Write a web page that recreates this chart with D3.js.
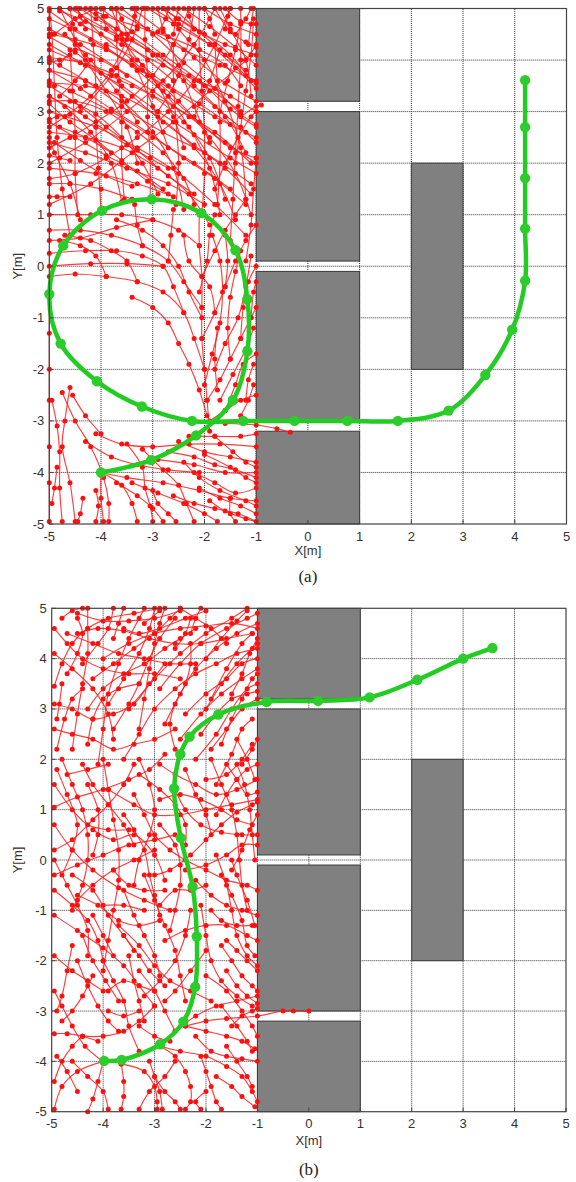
<!DOCTYPE html>
<html>
<head>
<meta charset="utf-8">
<script src="https://cdn.jsdelivr.net/npm/d3@7"></script>
<style>
  body { margin: 0; background: #fff; }
  svg { display: block; }
  .tick-label { font-family: "Liberation Sans", Arial, sans-serif; font-size: 13px; fill: #333; }
  .caption { font-family: "Liberation Serif", "Times New Roman", serif; font-size: 17px; fill: #222; }
</style>
</head>
<body>
<svg id="chart" width="576" height="1182"></svg>
<script>
// axis ticks (both panels)
const ticks = [-5, -4, -3, -2, -1, 0, 1, 2, 3, 4, 5];

// obstacles [x0, x1, y0, y1] in metres
const obstacles = [
  [-1, 1, 3.2, 5],
  [-1, 1, 0.1, 3],
  [-1, 1, -3, -0.1],
  [-1, 1, -5, -3.2],
  [2, 3, -2, 2]
];

// green final path, panel (a)
const pathA = [
  [-4, -4], [-3.03, -3.76], [-2.16, -3.28], [-1.45, -2.6], [-1.17, -1.65], [-1.17, -0.64],
  [-1.4, 0.31], [-2.06, 1.03], [-3.02, 1.3], [-3.98, 1.08], [-4.73, 0.4], [-5.0, -0.54],
  [-4.78, -1.5], [-4.08, -2.23], [-3.21, -2.72], [-2.24, -3.0], [-1.25, -3.0], [-0.26, -3.0],
  [0.76, -3.0], [1.74, -3.0], [2.72, -2.8], [3.43, -2.11], [3.95, -1.23], [4.2, -0.28],
  [4.2, 0.73], [4.2, 1.71], [4.2, 2.7], [4.2, 3.61]
];

// green final path, panel (b)
const pathB = [
  [-3.98, -3.99], [-3.64, -3.97], [-2.89, -3.66], [-2.44, -3.21], [-2.21, -2.52], [-2.18, -1.52],
  [-2.26, -0.53], [-2.49, 0.44], [-2.62, 1.42], [-2.5, 2.1], [-2.32, 2.45], [-1.76, 2.89],
  [-0.82, 3.14], [0.18, 3.16], [1.18, 3.23], [2.11, 3.58], [3.0, 4.0], [3.57, 4.21]
];

// red search tree branches, panel (a): x0,y0,x1,y1,...
const treeA = [
  // upper field
  [-1.2,0.6, -1.8,1.2, -2.5,1.8, -3.3,2.3, -4.1,2.7, -5,3.0],
  [-1.5,1.5, -2.2,2.0, -3.0,2.5, -3.8,3.0, -4.6,3.4, -5,3.6],
  [-1.1,2.0, -1.8,2.6, -2.6,3.1, -3.4,3.5, -4.3,3.9, -5,4.2],
  [-1.3,3.0, -2.0,3.5, -2.8,3.9, -3.6,4.3, -4.4,4.7, -4.8,5],
  [-1.2,3.8, -1.9,4.3, -2.6,4.7, -3.1,5],
  [-2.0,1.2, -2.7,1.6, -3.5,1.9, -4.3,2.2, -5,2.4],
  [-2.6,1.35, -3.3,1.6, -4.1,1.8, -5,1.9],
  [-3.4,1.3, -4.0,1.5, -4.6,1.6, -5,1.6],
  [-5,4.8, -4.2,4.4, -3.4,3.9, -2.6,3.4, -1.8,2.9, -1,2.5],
  [-5,4.0, -4.3,3.6, -3.6,3.1, -2.8,2.6, -2.0,2.2, -1.1,1.6],
  [-5,3.3, -4.3,2.9, -3.5,2.35, -2.7,1.9],
  [-4.6,5, -3.9,4.6, -3.1,4.2, -2.3,3.7, -1.5,3.3, -1,3.0],
  [-3.8,5, -3.1,4.6, -2.4,4.2, -1.7,3.9, -1.0,3.6],
  [-2.8,5, -2.2,4.6, -1.6,4.3, -1.0,4.1],
  [-2.0,5, -1.5,4.7, -1.0,4.5],
  [-3.05,1.3, -3.05,2.1, -3.1,2.9, -3.1,3.7, -3.15,4.4, -3.15,5],
  [-2.05,1.0, -2.0,1.8, -2.0,2.6, -2.05,3.4, -2.1,4.2, -2.1,5],
  [-1.5,0.5, -1.45,1.3, -1.4,2.2, -1.35,3.1, -1.3,4.0, -1.3,5],
  [-4.0,1.1, -4.05,1.9, -4.1,2.7, -4.1,3.5, -4.15,4.3, -4.2,5],
  [-4.6,0.6, -4.75,1.5, -4.85,2.5, -4.9,3.5, -4.95,4.5, -5,5],
  [-2.4,1.1, -2.6,1.9, -3.0,2.6, -3.6,3.2, -4.3,3.6, -5,3.8],
  [-1.7,1.0, -1.9,1.9, -2.3,2.7, -2.8,3.4, -3.4,4.0, -4.0,4.5, -4.5,5],
  [-1.2,1.3, -1.3,2.3, -1.6,3.2, -2.0,4.0, -2.5,4.6, -2.8,5],
  [-3.6,1.25, -3.8,2.0, -4.2,2.6, -4.7,3.1, -5,3.3],
  [-1.1,3.3, -1.2,4.0, -1.5,4.6, -1.7,5],
  [-4.4,0.9, -4.6,1.6, -4.9,2.2, -5,2.5],
  [-5,2.0, -4.3,2.4, -3.5,3.0, -2.8,3.6, -2.2,4.3, -1.8,5],
  [-5,1.2, -4.2,1.6, -3.4,2.2, -2.6,2.8, -1.9,3.4, -1.2,4.0, -1,4.3],
  [-4.4,3.0, -3.8,3.7, -3.4,4.4, -3.2,5],
  [-2.9,3.0, -2.5,3.7, -2.3,4.4, -2.2,5],
  [-4.9,4.5, -4.5,4.8, -4.1,5],
  [-3.5,4.5, -3.6,4.8, -3.7,5],
  [-2.6,4.5, -2.55,4.8, -2.5,5],
  [-1.4,4.5, -1.2,4.8, -1.1,5],
  [-4.5,4.3, -4.55,4.7, -4.6,5],
  [-1.8,4.5, -1.9,4.8, -2.0,5],
  [-1.4,2.0, -1.3,2.7, -1.2,3.4, -1.1,4.1, -1.05,4.8],
  [-1.2,0.1, -1.1,0.8, -1.05,1.5, -1,2.1],
  [-1.7,3.0, -1.55,3.6, -1.4,4.2, -1.3,4.7],
  [-1.8,1.5, -1.6,2.0, -1.35,2.5, -1.1,2.9, -1.0,3.0],
  [-1.3,2.9, -1.0,3.1, -0.9,3.13],
  [-4.8,3.9, -4.5,4.2, -4.0,4.0, -3.5,3.7],
  [-2.4,2.3, -2.6,2.9, -2.9,3.5, -3.3,4.0, -3.9,4.3],
  [-3.8,2.2, -4.3,2.5, -4.8,2.7],
  [-2.2,2.9, -1.9,3.6, -1.7,4.2],
  [-3.3,2.8, -3.7,3.4, -4.3,4.1, -4.7,4.5],
  [-5,4.6, -4.4,4.3, -3.7,3.85, -3.0,3.4, -2.3,2.9, -1.6,2.4, -1.0,2.0],
  [-5,4.3, -4.3,3.9, -3.6,3.5, -2.9,3.0, -2.2,2.55, -1.5,2.1, -1.0,1.8],
  [-5,3.8, -4.4,3.45, -3.8,3.05, -3.1,2.6, -2.4,2.1, -1.8,1.7, -1.2,1.2],
  [-5,3.5, -4.4,3.1, -3.9,2.7, -3.3,2.25, -2.7,1.75, -2.2,1.4],
  [-5,2.8, -4.5,2.5, -3.9,2.15, -3.3,1.85, -2.8,1.5],
  [-4.3,5, -3.7,4.6, -3.0,4.1, -2.4,3.6, -1.8,3.1, -1.2,2.6, -1.0,2.4],
  [-4.0,5, -3.4,4.55, -2.8,4.1, -2.1,3.6, -1.5,3.05, -1.0,2.7],
  [-3.4,5, -2.8,4.55, -2.2,4.05, -1.6,3.55, -1.0,3.2],
  [-3.0,5, -2.5,4.7, -1.9,4.3, -1.4,3.85, -1.0,3.45],
  [-2.4,5, -1.9,4.65, -1.4,4.25, -1.0,3.9],
  [-1.6,5, -1.3,4.75, -1.0,4.7],
  [-4.8,4.95, -4.3,4.75, -3.7,4.45, -3.1,4.0, -2.6,3.6],
  [-1.9,0.8, -2.3,1.4, -2.9,1.9, -3.6,2.3, -4.3,2.5, -5,2.6],
  [-1.4,0.9, -1.7,1.6, -2.2,2.3, -2.9,2.9, -3.6,3.3, -4.3,3.5, -5,3.55],
  [-1.1,1.0, -1.4,1.8, -1.9,2.5, -2.5,3.2, -3.2,3.8, -3.9,4.2, -4.5,4.4, -5,4.5],
  [-1.2,2.2, -1.6,2.9, -2.2,3.5, -2.9,4.1, -3.5,4.5, -4.1,4.8, -4.4,5],
  [-1.1,3.6, -1.5,4.1, -2.0,4.5, -2.5,4.8, -2.8,5],
  [-3.3,5, -3.5,4.4, -3.8,3.8, -4.2,3.3, -4.7,2.9, -5,2.7],
  [-2.3,5, -2.6,4.3, -3.0,3.7, -3.5,3.2, -4.1,2.8, -4.6,2.5, -5,2.3],
  [-1.5,5, -1.8,4.3, -2.2,3.6, -2.7,3.0, -3.3,2.5, -3.9,2.1, -4.5,1.8, -5,1.7],
  [-4.2,4.0, -4.5,3.6, -4.8,3.3],
  [-3.55,1.3, -3.6,2.0, -3.6,2.8, -3.65,3.6, -3.7,4.4, -3.7,5],
  [-2.55,1.2, -2.5,2.0, -2.55,2.8, -2.6,3.6, -2.6,4.3],
  [-1.75,1.2, -1.7,2.0, -1.7,2.8, -1.75,3.6, -1.8,4.3],
  [-4.45,1.0, -4.5,1.8, -4.5,2.6, -4.55,3.4, -4.6,4.2],
  [-1.15,4.3, -1.1,4.7, -1.05,5],
  [-4.3,4.6, -4.4,4.85, -4.45,5],
  [-3.9,4.6, -3.95,4.85, -3.95,5],
  [-3.3,4.6, -3.35,4.85, -3.35,5],
  [-2.9,4.55, -2.75,4.8, -2.7,5],
  [-2.2,4.6, -2.3,4.85, -2.3,5],
  [-1.6,4.6, -1.55,4.85, -1.5,5],
  [-4.6,4.1, -4.8,4.0, -5,3.95],
  [-4.6,2.95, -4.85,2.9, -5,2.85],
  [-4.6,1.35, -4.85,1.35, -5,1.35],
  [-4.6,2.05, -4.8,2.1, -5,2.15],
  [-5,4.95, -4.5,4.6, -3.9,4.25, -3.3,3.8, -2.7,3.3, -2.1,2.8, -1.5,2.3, -1.0,2.1],
  [-5,4.45, -4.5,4.15, -4.0,3.75, -3.4,3.3, -2.8,2.8, -2.2,2.35, -1.6,1.9, -1.1,1.4],
  [-5,3.15, -4.6,2.8, -4.1,2.45, -3.6,2.05, -3.1,1.65, -2.7,1.4],
  [-4.9,2.4, -4.4,2.05, -3.9,1.75, -3.4,1.55],
  [-3.6,5, -3.0,4.5, -2.4,3.95, -1.8,3.45, -1.3,2.95, -1.0,2.75],
  [-2.6,5, -2.1,4.55, -1.6,4.1, -1.2,3.7, -1.0,3.55],
  [-1.8,5, -1.5,4.55, -1.2,4.35, -1.0,4.25],
  [-4.1,4.9, -3.6,4.4, -3.2,3.9, -2.7,3.5, -2.1,3.15, -1.5,2.75],
  [-2.2,1.2, -2.4,1.7, -2.8,2.2, -3.3,2.6, -3.9,3.0, -4.5,3.2, -5,3.2],
  [-1.6,1.3, -1.9,2.1, -2.4,2.8, -3.0,3.3, -3.7,3.7, -4.4,3.95, -5,4.05],
  [-1.3,3.5, -1.6,3.9, -2.1,4.2, -2.7,4.45, -3.3,4.65, -3.9,4.85, -4.2,5],
  [-2.9,1.4, -3.2,2.0, -3.6,2.5, -4.1,2.95, -4.6,3.2],
  [-1.9,2.4, -2.2,3.1, -2.5,3.9, -2.8,4.6, -2.9,5],
  [-2.7,2.3, -3.0,3.1, -3.3,3.8, -3.6,4.5, -3.8,5],
  [-3.3,2.0, -3.5,2.7, -3.9,3.4, -4.3,4.0, -4.6,4.6, -4.8,5],
  // loop interior
  [-1.9,-3.2, -1.95,-2.6, -2.0,-2.0, -2.05,-1.4, -2.05,-0.8, -2.05,-0.2, -2.1,0.4, -2.1,1.0],
  [-2.0,-2.0, -2.2,-1.4, -2.4,-0.9, -2.8,-0.5, -3.3,-0.3, -3.9,-0.2, -4.5,-0.15, -5,-0.2],
  [-2.05,-1.4, -1.8,-0.9, -1.6,-0.4, -1.4,0.1, -1.2,0.5, -1,0.8],
  [-1.95,-2.6, -1.7,-2.2, -1.5,-1.8, -1.3,-1.4, -1.1,-1.0, -1,-0.8],
  [-1.9,-3.0, -1.6,-2.8, -1.3,-2.6, -1.0,-2.5],
  [-1.6,-2.8, -1.4,-2.3, -1.25,-1.9, -1.0,-1.7],
  [-2.05,-0.8, -2.4,-0.3, -2.7,0.1, -3.2,0.4, -3.8,0.6, -4.4,0.7, -5,0.7],
  [-2.05,-0.2, -1.8,0.3, -1.6,0.7, -1.4,1.0, -1.2,1.3],
  [-1.5,-1.8, -1.55,-1.2, -1.5,-0.6, -1.4,-0.1, -1.3,0.3],
  [-1.3,-1.4, -1.25,-0.8, -1.15,-0.3, -1.0,0.0],
  [-2.4,-0.9, -2.6,-0.4, -2.8,0.0, -3.2,0.2, -3.7,0.3, -4.3,0.3, -5,0.25],
  [-2.1,0.4, -2.5,0.7, -3.0,0.9, -3.6,1.0, -4.2,1.0, -5,1.0],
  [-2.7,0.1, -2.65,0.6, -2.6,1.1],
  [-3.2,0.4, -3.3,0.8, -3.35,1.2],
  [-1.6,-0.4, -1.55,0.1, -1.6,0.6],
  [-2.8,0.0, -3.5,0.05, -4.2,0.05, -5,0.0],
  [-3.0,0.9, -3.7,0.75, -4.4,0.55, -5,0.5],
  [-1.8,-0.9, -1.9,-0.4, -2.3,0.1, -2.4,0.6],
  [-1.75,-2.4, -1.8,-1.8, -1.75,-1.2],
  [-1.2,-2.6, -1.15,-2.2, -1.05,-1.9],
  [-1.1,-1.0, -1.05,-0.5, -1.0,-0.3],
  [-1.95,-2.9, -2.1,-2.4, -2.3,-1.9, -2.5,-1.5, -2.7,-1.1, -3.0,-0.8, -3.4,-0.6],
  [-2.0,-2.3, -1.85,-1.7, -1.7,-1.1, -1.65,-0.5, -1.7,0.1, -1.85,0.6],
  [-1.8,-2.0, -1.6,-1.5, -1.35,-1.0, -1.2,-0.4, -1.1,0.2],
  [-2.05,-1.0, -2.3,-0.5, -2.5,0.0, -2.8,0.4, -3.2,0.7, -3.7,0.9],
  [-2.1,-0.5, -1.95,0.1, -1.9,0.6, -1.8,1.0],
  [-1.7,-2.6, -1.45,-2.1, -1.2,-1.6, -1.05,-1.2],
  [-1.3,-2.9, -1.15,-2.6, -1.05,-2.3],
  [-3.9,-0.2, -4.1,0.2, -4.4,0.4, -4.8,0.5],
  [-3.3,-0.3, -3.5,0.1, -3.8,0.3, -4.2,0.5, -4.7,0.6],
  // lower field
  [-5,-0.6, -5,-1.3, -5,-2.0, -5,-2.6, -5,-3.5, -5,-4.2, -5,-4.95],
  [-4.6,-2.35, -4.7,-3.0, -4.75,-3.5, -4.6,-4.2, -4.5,-4.95],
  [-4.75,-2.45, -4.5,-3.0, -4.2,-3.5, -3.95,-4.1, -3.85,-4.6, -3.85,-4.95],
  [-4.1,-3.25, -3.6,-3.45, -3.0,-3.5, -2.3,-3.45, -1.7,-3.45, -1.0,-3.5],
  [-4.0,-4.0, -3.5,-4.1, -2.8,-4.2, -2.1,-4.35, -1.5,-4.5, -1.0,-4.55],
  [-4.0,-4.0, -3.6,-4.25, -3.4,-4.6, -3.3,-4.95],
  [-3.4,-4.2, -2.9,-4.4, -2.4,-4.6, -2.0,-4.8, -1.75,-4.95],
  [-4.0,-4.0, -4.0,-4.5, -3.95,-4.95],
  [-2.9,-3.75, -2.2,-3.85, -1.6,-4.0, -1.0,-4.0],
  [-2.5,-3.4, -2.0,-3.6, -1.5,-3.7, -1.0,-3.8],
  [-2.3,-3.3, -1.8,-3.3, -1.3,-3.3, -1.0,-3.25],
  [-2.2,-4.0, -1.8,-4.2, -1.4,-4.4, -1.0,-4.3],
  [-2.0,-3.65, -1.5,-3.9, -1.2,-4.1, -1.0,-4.2],
  [-2.6,-4.45, -2.2,-4.6, -1.8,-4.7, -1.35,-4.8, -1.0,-4.95],
  [-3.0,-4.35, -2.9,-4.6, -2.7,-4.8, -2.55,-4.95],
  [-3.5,-3.45, -3.2,-3.9, -3.15,-4.3, -3.05,-4.65, -3.0,-4.95],
  [-4.1,-4.35, -4.05,-4.65, -4.1,-4.95],
  [-4.55,-2.5, -4.3,-2.9, -4.0,-3.25],
  [-2.1,-4.3, -1.7,-4.5, -1.3,-4.65, -1.0,-4.8],
  [-1.8,-3.3, -1.45,-3.6, -1.2,-3.8, -1.0,-3.9],
  [-1.5,-4.5, -1.5,-4.8, -1.4,-4.95],
  [-1.6,-3.05, -1.0,-3.08, -0.6,-3.15, -0.34,-3.22],
  [-4.95,-2.6, -4.85,-3.1, -4.8,-3.6, -4.8,-4.3, -4.75,-4.95],
  [-2.4,-3.8, -2.1,-4.1, -1.7,-4.35, -1.2,-4.55, -1.0,-4.65],
  [-3.2,-3.55, -2.8,-3.95, -2.5,-4.25, -2.35,-4.6, -2.2,-4.95],
  [-4.3,-3.4, -3.8,-3.7, -3.3,-3.85, -2.7,-3.95, -2.1,-4.0],
  [-3.7,-4.2, -3.3,-4.45, -3.0,-4.7, -2.8,-4.95],
  [-2.7,-3.6, -2.2,-3.7, -1.8,-3.85, -1.4,-3.95, -1.0,-4.1],
  [-1.9,-4.55, -1.6,-4.75, -1.2,-4.9, -1.0,-4.95],
  [-4.85,-3.9, -4.9,-4.3, -4.95,-4.6],
  [-4.35,-4.5, -4.4,-4.8, -4.45,-4.95]
];

// red search tree branches, panel (b)
const treeB = [
  // upper field
  [-4.95,3.45, -4.8,3.9, -4.6,4.3, -4.3,4.6, -3.9,4.8, -3.4,4.9, -2.9,5],
  [-4.6,2.2, -4.5,2.9, -4.4,3.5, -4.3,4.1, -4.3,4.6, -4.3,5],
  [-4.1,1.9, -4.0,2.6, -3.9,3.3, -3.7,3.9, -3.5,4.4, -3.3,4.8, -3.2,5],
  [-3.3,2.6, -3.2,3.2, -3.1,3.8, -3.0,4.3, -2.9,4.7, -2.8,5],
  [-2.8,2.7, -2.5,3.3, -2.2,3.8, -1.8,4.2, -1.4,4.5, -1.0,4.7],
  [-2.5,2.4, -2.1,2.9, -1.7,3.3, -1.3,3.6, -1.0,3.8],
  [-2.9,3.4, -2.5,3.9, -2.1,4.3, -1.6,4.6, -1.2,4.8, -1.0,4.9],
  [-3.5,3.0, -3.0,3.6, -2.5,4.1, -2.0,4.5, -1.5,4.8, -1.2,5],
  [-4.0,4.0, -3.5,4.3, -3.0,4.5, -2.5,4.6, -2.0,4.65, -1.5,4.7, -1.0,4.6],
  [-4.5,4.9, -4.0,4.75, -3.5,4.75, -3.0,4.8, -2.5,4.95],
  [-4.8,4.8, -4.6,4.95, -4.4,5],
  [-4.2,3.6, -3.8,3.9, -3.4,4.2, -3.0,4.5, -2.7,4.8, -2.5,5],
  [-1.9,2.2, -1.6,2.6, -1.3,3.0, -1.0,3.2],
  [-2.0,3.0, -1.7,3.5, -1.4,3.9, -1.1,4.2, -1.0,4.3],
  [-3.8,4.4, -3.7,4.7, -3.6,5],
  [-2.3,4.5, -2.2,4.8, -2.1,5],
  [-4.9,2.2, -4.75,2.8, -4.6,3.2, -4.4,3.4],
  [-4.9,2.8, -4.85,3.1, -4.8,3.5],
  [-3.6,2.0, -3.3,2.5, -3.0,3.0, -2.6,3.4, -2.2,3.7, -1.8,3.9, -1.4,4.1, -1.0,4.2],
  [-1.8,1.5, -1.5,2.1, -1.3,2.6, -1.1,2.8],
  [-1.6,4.3, -1.9,4.6, -2.2,4.8, -2.5,5],
  [-4.7,4.5, -4.2,4.3, -3.7,4.1, -3.2,4.0, -2.7,3.9, -2.2,3.9],
  [-2.2,2.0, -1.8,2.5, -1.5,3.0, -1.2,3.4, -1.0,3.5],
  [-1.9,3.2, -1.6,3.8, -1.3,4.3, -1.1,4.5],
  [-3.9,3.1, -3.6,3.6, -3.3,4.1, -3.1,4.6, -3.0,5],
  [-2.6,4.2, -2.4,4.5, -2.3,4.8],
  [-4.4,3.9, -4.1,4.3, -3.9,4.6, -3.8,5],
  [-1.4,2.4, -1.2,2.0, -1.05,1.6],
  [-4.95,4.6, -4.7,4.3, -4.4,4.0, -4.0,3.8, -3.5,3.7, -3.0,3.7, -2.5,3.6],
  [-4.95,4.1, -4.6,3.8, -4.2,3.4, -3.9,2.9, -3.8,2.4],
  [-4.3,3.0, -4.0,3.4, -3.6,3.7, -3.2,3.9, -2.8,4.2, -2.5,4.4, -2.2,4.6],
  [-3.8,2.6, -3.5,3.1, -3.3,3.5, -3.1,4.0, -2.9,4.4, -2.6,4.8],
  [-2.4,2.9, -2.0,3.3, -1.6,3.6, -1.3,3.9, -1.0,4.0],
  [-3.2,4.7, -2.9,4.95],
  [-2.0,4.0, -1.7,4.4, -1.4,4.75, -1.2,4.95],
  [-1.5,3.3, -1.3,3.7, -1.15,4.1, -1.0,4.4],
  [-4.5,4.5, -4.1,4.6, -3.6,4.55, -3.1,4.4, -2.6,4.3, -2.1,4.3, -1.6,4.4, -1.1,4.5],
  [-2.6,2.2, -2.7,2.7, -2.6,3.1, -2.4,3.5, -2.3,3.9, -2.3,4.3],
  [-4.7,3.7, -4.5,4.1, -4.4,4.5, -4.5,4.8],
  [-1.7,2.3, -1.5,2.8, -1.3,3.2, -1.1,3.6, -1.0,3.7],
  [-4.95,2.6, -4.6,2.5, -4.2,2.4, -3.8,2.2, -3.4,2.3, -3.0,2.4, -2.6,2.6],
  [-4.95,3.1, -4.6,3.0, -4.2,2.8, -3.8,2.9, -3.4,3.1, -3.1,3.5, -2.8,3.9],
  [-4.3,2.3, -4.2,2.8, -4.0,3.2, -3.7,3.4, -3.3,3.5],
  [-2.1,2.5, -1.8,2.9, -1.5,3.2, -1.2,3.3, -1.0,3.35],
  [-3.6,4.6, -3.3,4.5, -2.9,4.6, -2.4,4.8, -2.0,4.95],
  // middle field
  [-4.95,1.05, -4.5,1.25, -4.0,1.4, -3.5,1.6, -3.1,1.8, -2.8,2.1],
  [-4.95,0.7, -4.6,0.2, -4.2,-0.2, -3.7,-0.55, -3.2,-0.8, -2.7,-1.0],
  [-4.95,-1.1, -4.5,-1.4, -4.0,-1.75, -3.6,-2.1, -3.3,-2.5, -3.0,-2.9],
  [-4.8,2.0, -4.6,1.5, -4.4,1.0, -4.3,0.5, -4.3,0.0, -4.4,-0.5, -4.6,-1.0],
  [-4.0,2.0, -3.9,1.4, -3.8,0.8, -3.7,0.2, -3.7,-0.4, -3.8,-1.0, -3.9,-1.6, -4.0,-2.2],
  [-3.4,1.3, -3.2,0.9, -3.0,0.5, -2.7,0.2, -2.4,0.0, -2.0,-0.2, -1.6,-0.4, -1.2,-0.5, -1.0,-0.6],
  [-3.0,-0.3, -2.7,-0.2, -2.3,0.1, -2.0,0.4, -1.7,0.7, -1.4,0.95, -1.1,1.1, -1.0,1.15],
  [-2.6,1.4, -2.4,1.0, -2.1,0.7, -1.7,0.55, -1.3,0.5, -1.0,0.5],
  [-2.2,-0.4, -1.9,-0.7, -1.6,-0.9, -1.3,-1.0, -1.0,-1.1],
  [-3.2,-0.3, -3.0,-0.8, -2.8,-1.3, -2.6,-1.8, -2.5,-2.3, -2.4,-2.8],
  [-4.95,-0.3, -4.5,-0.1, -4.0,0.1, -3.5,0.3, -3.0,0.4, -2.6,0.5],
  [-3.9,1.4, -3.4,1.1, -3.0,0.9, -2.5,0.9, -2.0,1.0, -1.5,1.1, -1.0,1.2],
  [-1.9,2.0, -1.7,1.5, -1.5,1.0, -1.4,0.5, -1.35,0.0, -1.3,-0.5, -1.2,-1.0],
  [-1.4,1.9, -1.25,1.5, -1.15,1.0, -1.1,0.5, -1.05,0.0],
  [-2.1,-0.9, -2.0,-1.5, -1.9,-2.0, -1.7,-2.4, -1.4,-2.7, -1.1,-2.9],
  [-3.6,-0.6, -3.4,-1.1, -3.2,-1.5, -3.0,-1.9, -2.9,-2.3],
  [-4.6,-1.7, -4.7,-2.2, -4.8,-2.7, -4.9,-3.0],
  [-4.2,-1.1, -4.0,-1.5, -3.8,-1.9],
  [-2.8,-1.6, -2.4,-1.4, -2.0,-1.3, -1.6,-1.3, -1.2,-1.5, -1.0,-1.6],
  [-1.7,-1.7, -1.5,-2.0, -1.3,-2.3, -1.1,-2.5, -1.0,-2.6],
  [-1.5,0.0, -1.4,-0.3, -1.2,-0.8, -1.05,-1.3],
  [-2.9,-0.9, -2.6,-0.6, -2.3,-0.6, -2.0,-0.5],
  [-4.7,1.7, -4.3,1.8, -3.9,1.9],
  [-4.9,1.8, -4.7,1.3, -4.5,0.7, -4.6,0.2, -4.8,-0.3],
  [-3.3,2.0, -3.1,1.5, -3.0,1.0, -3.1,0.5, -3.3,0.0, -3.4,-0.5],
  [-2.9,1.9, -2.6,1.7, -2.2,1.5, -1.8,1.3, -1.4,1.4, -1.0,1.6],
  [-4.5,-0.7, -4.1,-0.9, -3.7,-1.2, -3.3,-1.3, -2.9,-1.2],
  [-4.2,0.6, -3.8,0.4, -3.4,0.5, -3.0,0.1, -2.8,-0.4],
  [-1.8,0.1, -1.6,-0.5, -1.5,-1.0, -1.4,-1.5, -1.2,-1.9, -1.0,-2.1],
  [-2.4,1.8, -2.2,1.3, -2.0,0.9, -1.9,0.5],
  [-3.6,-1.5, -3.3,-1.9, -3.1,-2.2, -2.8,-2.5],
  [-4.95,-1.9, -4.6,-2.2, -4.3,-2.4, -4.0,-2.6],
  [-1.3,1.9, -1.1,2.2, -1.0,2.4],
  [-4.0,-0.9, -3.6,-0.9, -3.2,-1.0],
  [-4.95,1.5, -4.6,1.0, -4.3,0.7, -3.9,0.6, -3.5,0.6],
  [-4.95,0.2, -4.6,0.4, -4.2,0.8, -3.9,1.1, -3.6,1.5, -3.4,1.9],
  [-4.95,-0.6, -4.6,-0.9, -4.3,-1.2, -4.1,-1.6, -4.0,-2.0],
  [-4.4,-1.5, -4.2,-2.0, -3.95,-2.4, -3.7,-2.8],
  [-3.3,1.7, -2.9,1.4, -2.6,1.1, -2.4,0.7, -2.4,0.3],
  [-2.9,0.7, -2.6,0.3, -2.5,-0.1, -2.5,-0.5, -2.6,-1.0, -2.7,-1.4],
  [-2.3,-1.0, -2.4,-1.5, -2.6,-2.0, -2.9,-2.4, -3.2,-2.7],
  [-1.9,-1.0, -1.7,-1.2, -1.4,-1.3, -1.1,-1.3],
  [-1.8,0.9, -1.6,1.3, -1.4,1.6, -1.2,1.8, -1.0,1.9],
  [-1.5,-0.2, -1.3,0.2, -1.15,0.6, -1.0,0.9],
  [-1.6,-1.6, -1.4,-1.8, -1.2,-2.0, -1.0,-2.2],
  [-4.3,1.5, -4.1,1.0, -4.1,0.5, -4.2,0.1],
  [-3.5,-1.9, -3.4,-2.4, -3.3,-2.8, -3.2,-3.2],
  [-4.2,-2.3, -4.4,-2.7, -4.6,-3.0, -4.8,-3.2],
  [-3.0,0.2, -3.4,0.0, -3.8,-0.2, -4.2,-0.5, -4.5,-0.8],
  [-2.0,1.6, -1.6,1.7, -1.3,2.0, -1.1,2.3],
  [-3.8,-0.2, -3.5,-0.5, -3.2,-0.6, -2.8,-0.6],
  [-4.95,0.0, -4.7,-0.5, -4.5,-0.9, -4.3,-1.4, -4.3,-1.9],
  [-3.6,0.9, -3.4,0.6, -3.2,0.2, -3.1,-0.3, -3.0,-0.7, -2.9,-1.1],
  [-2.4,-0.2, -2.0,-0.1, -1.6,0.1, -1.3,0.3, -1.0,0.3],
  [-1.7,-0.3, -1.5,-0.7, -1.3,-1.2, -1.2,-1.7, -1.05,-1.9],
  [-4.6,-0.3, -4.2,-0.6, -3.9,-1.1, -3.6,-1.5, -3.4,-1.8],
  [-2.0,-1.8, -2.3,-2.2, -2.6,-2.6, -2.8,-2.8],
  [-3.9,-2.6, -3.6,-2.4, -3.3,-2.5, -3.0,-2.6],
  [-1.6,-2.2, -1.4,-2.5, -1.2,-2.7, -1.0,-2.85],
  [-2.9,1.2, -2.5,1.3, -2.1,1.2, -1.7,1.0, -1.4,0.8, -1.1,0.7],
  [-4.4,1.9, -4.2,1.5, -3.9,1.1, -3.6,0.7, -3.4,0.3],
  [-1.6,1.9, -1.4,1.6, -1.2,1.3, -1.0,1.35],
  // lower field
  [-4.0,-4.0, -4.1,-4.4, -4.2,-4.75, -4.3,-5],
  [-4.0,-4.0, -4.5,-4.2, -4.8,-4.5, -4.95,-4.95],
  [-4.0,-4.0, -4.35,-3.7, -4.6,-3.3, -4.8,-2.9, -4.95,-2.6],
  [-3.65,-4.05, -3.6,-4.4, -3.6,-4.7, -3.65,-4.95],
  [-3.65,-4.05, -3.2,-4.2, -3.0,-4.5, -2.95,-4.8, -2.95,-4.95],
  [-2.9,-3.7, -2.6,-3.9, -2.4,-4.2, -2.3,-4.5, -2.3,-4.8, -2.4,-4.95],
  [-2.9,-3.7, -2.5,-3.8, -2.0,-3.9, -1.6,-4.1, -1.3,-4.3, -1.1,-4.6, -1.0,-4.8],
  [-2.4,-3.3, -2.0,-3.4, -1.6,-3.5, -1.3,-3.6, -1.05,-3.75],
  [-2.4,-3.3, -2.0,-3.2, -1.6,-3.15, -1.0,-3.1, -0.5,-3.0, -0.3,-3.0, 0.0,-3.0],
  [-2.6,-3.4, -2.2,-3.1, -1.8,-2.9, -1.4,-2.8, -1.0,-2.7],
  [-3.3,-3.8, -3.5,-3.3, -3.6,-2.8, -3.8,-2.4, -4.0,-2.0],
  [-4.95,-3.45, -4.7,-3.45, -4.4,-3.5, -4.1,-3.6],
  [-3.0,-4.3, -2.8,-4.6, -2.6,-4.8, -2.5,-4.95],
  [-2.1,-3.9, -2.0,-4.2, -1.9,-4.5, -1.8,-4.8, -1.7,-4.95],
  [-1.8,-4.3, -1.5,-4.5, -1.3,-4.7, -1.05,-4.9],
  [-3.3,-2.2, -3.0,-2.6, -2.8,-3.0, -2.6,-3.4],
  [-3.0,-2.9, -3.3,-3.2, -3.6,-3.4, -4.0,-3.5, -4.4,-3.5],
  [-4.5,-2.0, -4.3,-2.5, -4.1,-2.9, -3.9,-3.2, -3.7,-3.4],
  [-2.0,-2.3, -1.6,-2.6, -1.3,-3.0, -1.1,-3.3, -1.0,-3.5],
  [-3.7,-1.3, -3.3,-1.7, -3.0,-2.1, -2.7,-2.4, -2.3,-2.6, -1.9,-2.8],
  [-4.95,-4.4, -4.8,-4.0, -4.6,-3.7, -4.4,-3.5],
  [-2.2,-3.5, -1.9,-3.8, -1.6,-3.9, -1.3,-3.95, -1.0,-4.0],
  [-3.1,-4.0, -3.0,-4.3, -2.9,-4.6, -2.85,-4.95],
  [-1.5,-3.3, -1.3,-3.1, -1.1,-3.0, -1.0,-2.95],
  [-1.7,-2.9, -1.4,-3.3, -1.2,-3.6, -1.1,-3.8],
  [-4.6,-4.0, -4.3,-4.3, -4.0,-4.6, -3.9,-4.95],
  [-3.3,-3.3, -3.0,-3.5, -2.7,-3.6],
  [-2.6,-4.0, -2.8,-4.3, -3.1,-4.6, -3.3,-4.95],
  [-2.0,-4.6, -2.2,-4.8, -2.1,-4.95],
  [-1.6,-3.7, -1.4,-4.0, -1.2,-4.3, -1.1,-4.5],
  [-4.9,-3.9, -4.7,-4.2, -4.5,-4.6],
  [-3.9,-3.0, -3.6,-3.1, -3.3,-3.0]
];

const svg = d3.select("#chart");

function drawPanel(cfg) {
  const x = d3.scaleLinear().domain([-5, 5]).range([cfg.left, cfg.right]);
  const y = d3.scaleLinear().domain([-5, 5]).range([cfg.bottom, cfg.top]);
  const g = svg.append("g");

  // grid
  g.selectAll(".gx").data(ticks.slice(1, -1)).enter().append("line")
    .attr("x1", d => x(d)).attr("x2", d => x(d))
    .attr("y1", y(-5)).attr("y2", y(5))
    .attr("stroke", "#333").attr("stroke-width", 1).attr("stroke-dasharray", "1,1");
  g.selectAll(".gy").data(ticks.slice(1, -1)).enter().append("line")
    .attr("y1", d => y(d)).attr("y2", d => y(d))
    .attr("x1", x(-5)).attr("x2", x(5))
    .attr("stroke", "#333").attr("stroke-width", 1).attr("stroke-dasharray", "1,1");

  // obstacles
  g.selectAll(".obs").data(obstacles).enter().append("rect")
    .attr("x", d => x(d[0])).attr("y", d => y(d[3]))
    .attr("width", d => x(d[1]) - x(d[0]))
    .attr("height", d => y(d[2]) - y(d[3]))
    .attr("fill", "#808080").attr("stroke", "#3a3a3a").attr("stroke-width", 1);

  // red tree
  const branches = cfg.tree.map(b => d3.range(0, b.length, 2).map(i => [b[i], b[i + 1]]));
  const redLine = d3.line().x(d => x(d[0])).y(d => y(d[1])).curve(d3.curveCatmullRom.alpha(0.5));
  g.selectAll(".br").data(branches).enter().append("path")
    .attr("d", redLine).attr("fill", "none")
    .attr("stroke", "#ff1a1a").attr("stroke-width", 1.15).attr("stroke-opacity", 0.85);
  g.selectAll(".nd").data(branches.flat()).enter().append("circle")
    .attr("cx", d => x(d[0])).attr("cy", d => y(d[1])).attr("r", 2.5)
    .attr("fill", "#ff1010");

  // green path
  const greenLine = d3.line().x(d => x(d[0])).y(d => y(d[1])).curve(d3.curveCatmullRom.alpha(0.5));
  g.append("path").datum(cfg.path).attr("d", greenLine)
    .attr("fill", "none").attr("stroke", "#22cc22").attr("stroke-width", 4.5)
    .attr("stroke-linejoin", "round").attr("stroke-linecap", "round");
  g.selectAll(".gp").data(cfg.path).enter().append("circle")
    .attr("cx", d => x(d[0])).attr("cy", d => y(d[1])).attr("r", 5.2)
    .attr("fill", "#2ccc2c");

  // frame and ticks
  g.append("rect")
    .attr("x", x(-5)).attr("y", y(5))
    .attr("width", x(5) - x(-5)).attr("height", y(-5) - y(5))
    .attr("fill", "none").attr("stroke", "#444").attr("stroke-width", 1.2);
  g.selectAll(".tkx").data(ticks).enter().append("line")
    .attr("x1", d => x(d)).attr("x2", d => x(d))
    .attr("y1", y(-5)).attr("y2", y(-5) - 4).attr("stroke", "#444");
  g.selectAll(".tky").data(ticks).enter().append("line")
    .attr("y1", d => y(d)).attr("y2", d => y(d))
    .attr("x1", x(-5)).attr("x2", x(-5) + 4).attr("stroke", "#444");

  // tick labels
  g.selectAll(".lx").data(ticks).enter().append("text")
    .attr("class", "tick-label")
    .attr("x", d => x(d)).attr("y", cfg.xLabelY)
    .attr("text-anchor", "middle").text(d => d);
  g.selectAll(".ly").data(ticks).enter().append("text")
    .attr("class", "tick-label")
    .attr("x", x(-5) - 5).attr("y", d => y(d) + 4.5)
    .attr("text-anchor", "end").text(d => d);

  g.append("text").attr("class", "tick-label")
    .attr("x", x(0)).attr("y", cfg.xTitleY)
    .attr("text-anchor", "middle").text("X[m]");
  g.append("text").attr("class", "tick-label")
    .attr("transform", `translate(22, ${(y(5) + y(-5)) / 2}) rotate(-90)`)
    .attr("text-anchor", "middle").text("Y[m]");
  g.append("text").attr("class", "caption")
    .attr("x", x(0)).attr("y", cfg.captionY)
    .attr("text-anchor", "middle").text(cfg.caption);
}

drawPanel({ left: 49.3, right: 566.5, top: 8.5, bottom: 524, tree: treeA, path: pathA,
  xLabelY: 541, xTitleY: 555, captionY: 582, caption: "(a)" });
drawPanel({ left: 51.7, right: 566, top: 608.3, bottom: 1111.7, tree: treeB, path: pathB,
  xLabelY: 1128, xTitleY: 1145, captionY: 1175, caption: "(b)" });
</script>
</body>
</html>
